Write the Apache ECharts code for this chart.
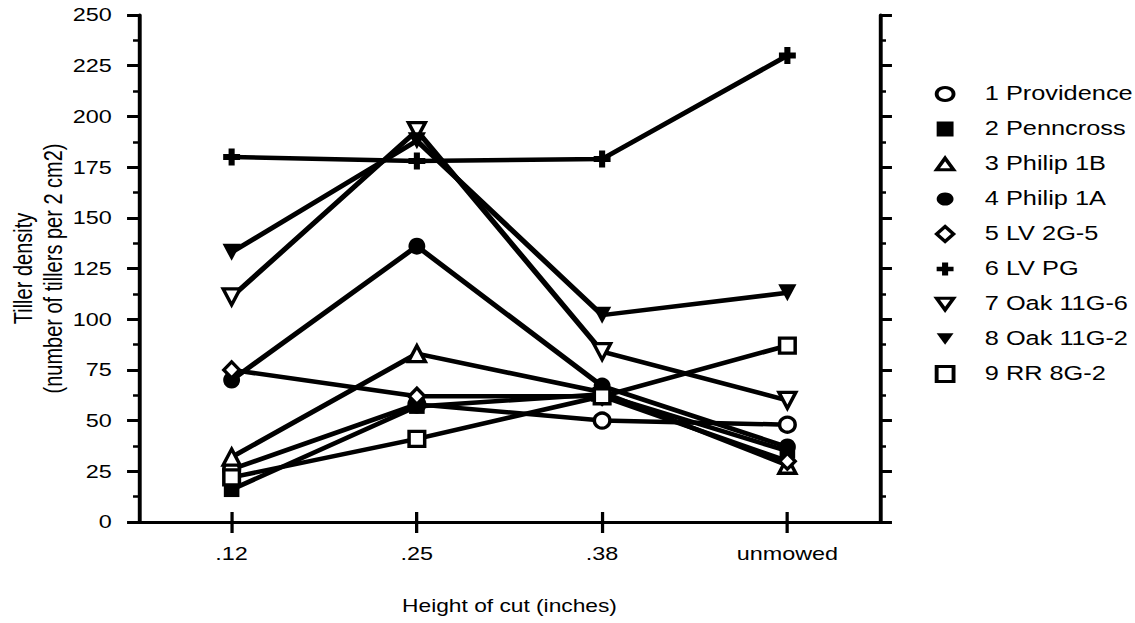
<!DOCTYPE html>
<html>
<head>
<meta charset="utf-8">
<script src="https://cdn.jsdelivr.net/npm/echarts@6/dist/echarts.min.js"></script>
<style>
html,body{margin:0;padding:0;background:#fff;overflow:hidden;width:1135px;height:623px;}
#chart{width:873px;height:623px;transform:scaleX(1.3);transform-origin:0 0;}
</style>
</head>
<body>
<div id="chart"></div>
<script>
var categories = ['.12', '.25', '.38', 'unmowed'];
var yTicks = [0, 25, 50, 75, 100, 125, 150, 175, 200, 225, 250];

var providence = [26, 58, 50, 48];
var penncross  = [16, 57, 63, 35];
var philip1B   = [32, 83, 64, 28];
var philip1A   = [70, 136, 67, 37];
var lv2g5      = [75, 62, 62, 30];
var lvpg       = [180, 178, 179, 230];
var oak11g6    = [111, 193, 84, 60];
var oak11g2    = [133, 188, 102, 113];
var rr8g2      = [22, 41, 62, 87];

var names = ['1 Providence','2 Penncross','3 Philip 1B','4 Philip 1A','5 LV 2G-5','6 LV PG','7 Oak 11G-6','8 Oak 11G-2','9 RR 8G-2'];
var values = [providence, penncross, philip1B, philip1A, lv2g5, lvpg, oak11g6, oak11g2, rr8g2];

// horizontal stretch of the original figure
var S = 1.3;
var W = 1135, H = 623;

var triUp = 'path://M5,0 L10,9 L0,9 Z';
var triDown = 'path://M0,0 L10,0 L5,9 Z';
var plus = 'path://M3.2,0 H6.8 V3.2 H10 V6.8 H6.8 V10 H3.2 V6.8 H0 V3.2 H3.2 Z';
var symbols = ['circle','rect',triUp,'circle','diamond',plus,triDown,triDown,'rect'];
var hollow = [true,false,true,false,true,false,true,false,true];
var sizes = [[12,15],[12,15],[13,16],[13,17],[12,16],[13,17],[13,16],[14,17],[12,15]];

var FONT = 'Liberation Sans, Arial, Helvetica, sans-serif';

var series = names.map(function(n,i){
  return {
    name: n,
    type: 'line',
    xAxisIndex: 0,
    yAxisIndex: 0,
    data: values[i],
    symbol: symbols[i],
    symbolSize: sizes[i],
    showAllSymbol: true,
    z: 2 + i,
    lineStyle: {color: '#000', width: 4.5},
    itemStyle: hollow[i] ? {color: '#fff', borderColor: '#000', borderWidth: 3} : {color: '#000', borderColor: '#000', borderWidth: 0},
    emphasis: {disabled: true},
    animation: false
  };
});

var chart = echarts.init(document.getElementById('chart'), null, {renderer: 'svg', width: W / S, height: H});
chart.setOption({
  animation: false,
  backgroundColor: '#fff',
  textStyle: {fontFamily: FONT, color: '#000'},
  grid: {left: 139 / S, right: 255 / S, top: 15, bottom: 101, containLabel: false, outerBoundsMode: 'none'},
  legend: {
    orient: 'vertical',
    left: 714,
    top: 79,
    itemWidth: 13,
    itemHeight: 15,
    itemGap: 15,
    textStyle: {fontFamily: FONT, fontSize: 19.5, color: '#000', padding: [0,0,0,19]},
    data: names.map(function(n,i){
      var d = {name: n, icon: symbols[i]};
      if (hollow[i]) d.itemStyle = {color: '#fff', borderColor: '#000', borderWidth: 3};
      return d;
    }),
    selectedMode: false
  },
  xAxis: [{
    type: 'category',
    position: 'bottom',
    data: categories,
    boundaryGap: true,
    name: 'Height of cut (inches)',
    nameLocation: 'middle',
    nameGap: 75,
    nameMoveOverlap: false,
    nameTextStyle: {fontFamily: FONT, fontSize: 17.5, color: '#000'},
    axisLine: {show: true, lineStyle: {color: '#000', width: 3}},
    axisTick: {show: true, alignWithLabel: true, inside: false, length: 11, lineStyle: {color: '#000', width: 2.5}},
    axisLabel: {margin: 23, fontFamily: FONT, fontSize: 18, color: '#000'},
    splitLine: {show: false}
  },{
    type: 'category',
    position: 'top',
    data: categories,
    boundaryGap: true,
    axisLine: {show: true, lineStyle: {color: '#000', width: 3}},
    axisTick: {show: true, alignWithLabel: true, inside: false, length: 10, lineStyle: {color: '#000', width: 2.5}},
    axisLabel: {show: false},
    splitLine: {show: false}
  }],
  yAxis: [{
    type: 'value',
    position: 'left',
    min: yTicks[0],
    max: yTicks[yTicks.length-1],
    interval: 25,
    name: 'Tiller density\n(number of tillers per 2 cm2)',
    nameLocation: 'middle',
    nameRotate: 90,
    nameGap: 55,
    nameMoveOverlap: false,
    nameTextStyle: {fontFamily: FONT, fontSize: 20, color: '#000', lineHeight: 23},
    axisLine: {show: true, lineStyle: {color: '#000', width: 3}},
    axisTick: {show: true, inside: false, length: 9.2, lineStyle: {color: '#000', width: 3}},
    minorTick: {show: true, splitNumber: 2, length: 4.6, lineStyle: {color: '#000', width: 2.5}},
    axisLabel: {margin: 21, fontFamily: FONT, fontSize: 18, color: '#000'},
    splitLine: {show: false}
  },{
    type: 'value',
    position: 'right',
    min: yTicks[0],
    max: yTicks[yTicks.length-1],
    interval: 25,
    axisLine: {show: true, lineStyle: {color: '#000', width: 3}},
    axisTick: {show: true, inside: false, length: 9.2, lineStyle: {color: '#000', width: 3}},
    minorTick: {show: true, splitNumber: 2, length: 4.6, lineStyle: {color: '#000', width: 2.5}},
    axisLabel: {show: false},
    splitLine: {show: false}
  }],
  series: series
});
</script>
</body>
</html>
